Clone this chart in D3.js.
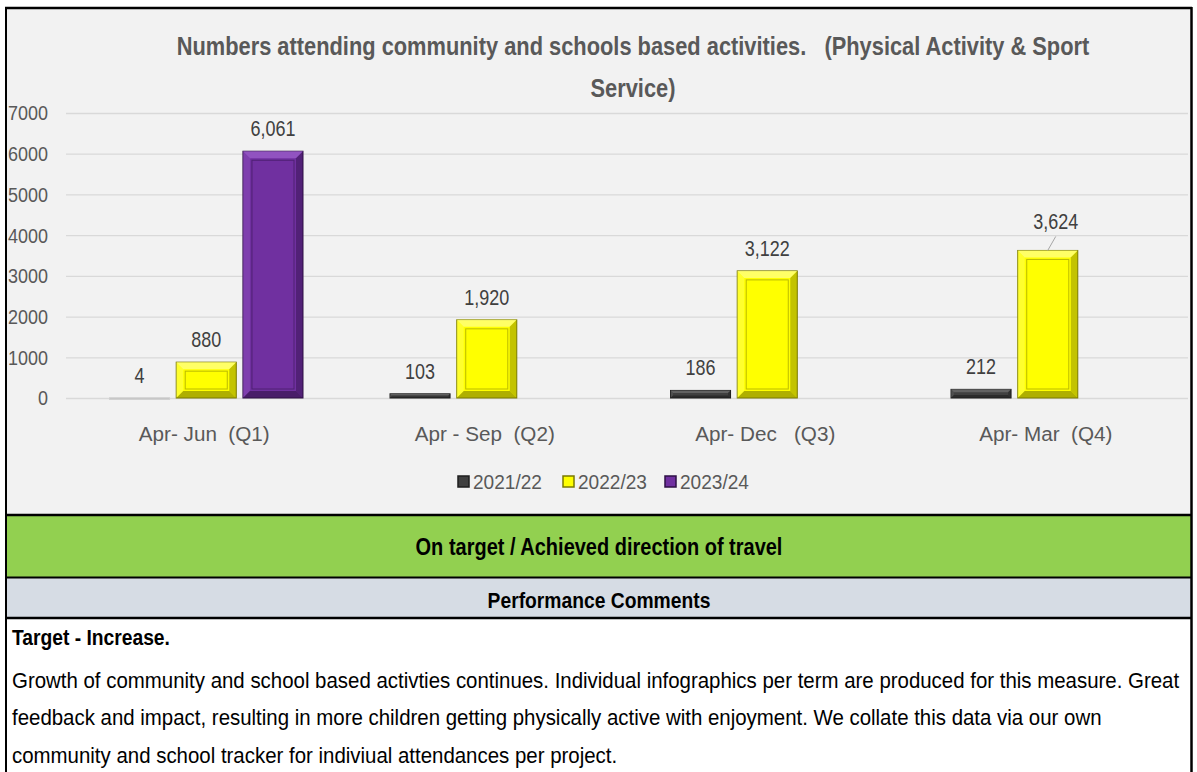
<!DOCTYPE html>
<html>
<head>
<meta charset="utf-8">
<script src="https://cdn.jsdelivr.net/npm/d3@7"></script>
<style>
  body { margin: 0; background: #fff; }
  svg text { font-family: "Liberation Sans", Arial, sans-serif; white-space: pre; }
</style>
</head>
<body>
<script>
// ---- data ----
const categories = ['Apr- Jun  (Q1)', 'Apr - Sep  (Q2)', 'Apr- Dec   (Q3)', 'Apr- Mar  (Q4)'];
const seriesNames = ['2021/22', '2022/23', '2023/24'];
const values2122 = [4, 103, 186, 212];
const values2223 = [880, 1920, 3122, 3624];
const values2324 = [6061, null, null, null];
const yTicks = [0, 1000, 2000, 3000, 4000, 5000, 6000, 7000];

const titleLines = ['Numbers attending community and schools based activities.   (Physical Activity & Sport', 'Service)'];
const statusText = 'On target / Achieved direction of travel';
const commentsHeader = 'Performance Comments';
const commentTitle = 'Target - Increase.';
const commentLines = [
  'Growth of community and school based activties continues. Individual infographics per term are produced for this measure. Great',
  'feedback and impact, resulting in more children getting physically active with enjoyment. We collate this data via our own',
  'community and school tracker for indiviual attendances per project.'
];

const colors = { '2021/22': '#404040', '2022/23': '#ffff00', '2023/24': '#7030a0' };
const darks = { '2021/22': '#1e1e1e', '2022/23': '#7a7a00', '2023/24': '#2e1045' };
const lights = { '2021/22': '#6a6a6a', '2022/23': '#ffff80', '2023/24': '#9a5cc8' };

// make a group of texts Calibri-narrow: shrink the font so the first one is `target` px wide,
// then stretch vertically back to the intended glyph height
function squeeze(sel, target) {
  const size = +sel.attr('font-size');
  const k = target / sel.node().getComputedTextLength();
  sel.attr('font-size', size * k)
    .attr('transform', function () {
      const yb = +d3.select(this).attr('y');
      return `translate(0,${yb}) scale(1,${1 / k}) translate(0,${-yb})`;
    });
}

const width = 1197, height = 772;
const svg = d3.select('body').append('svg')
  .attr('width', width)
  .attr('height', height);

// ---- panels ----
svg.append('rect').attr('x', 6).attr('y', 9).attr('width', 1185).attr('height', 506)
  .attr('fill', '#f2f2f2');
svg.append('rect').attr('x', 6).attr('y', 515).attr('width', 1185).attr('height', 62)
  .attr('fill', '#92d050');
svg.append('rect').attr('x', 6).attr('y', 578).attr('width', 1185).attr('height', 39)
  .attr('fill', '#d6dce4');

// borders
const hLines = [[8, 2.5], [515, 2.5], [577.5, 2], [618, 2.5]];
hLines.forEach(([y, w]) => svg.append('line').attr('x1', 5).attr('x2', 1192).attr('y1', y).attr('y2', y)
  .attr('stroke', '#000').attr('stroke-width', w));
svg.append('line').attr('x1', 6).attr('x2', 6).attr('y1', 7).attr('y2', height).attr('stroke', '#000').attr('stroke-width', 2);
svg.append('line').attr('x1', 1191.5).attr('x2', 1191.5).attr('y1', 7).attr('y2', height).attr('stroke', '#000').attr('stroke-width', 2.5);

// ---- scales ----
const y = d3.scaleLinear().domain([0, 7000]).range([398, 113]);
const x0 = d3.scaleBand().domain(categories).range([66, 1188]).padding(0);
const x1 = d3.scaleBand().domain(seriesNames).range([43.5, x0.bandwidth() - 43.5]).paddingInner(0.1).paddingOuter(0);

// gridlines
svg.append('g').selectAll('line').data(yTicks).enter().append('line')
  .attr('x1', 66).attr('x2', 1188)
  .attr('y1', d => y(d) + 0.5).attr('y2', d => y(d) + 0.5)
  .attr('stroke', '#d9d9d9').attr('stroke-width', 1.3);

// y axis labels
const yLab = svg.append('g').selectAll('text').data(yTicks.slice().reverse()).enter().append('text')
  .attr('x', 48).attr('y', d => y(d) + 7.5)
  .attr('text-anchor', 'end')
  .attr('font-size', 21).attr('fill', '#595959')
  .text(d => d);
squeeze(yLab, 40);

// title
const title = svg.append('g').selectAll('text').data(titleLines).enter().append('text')
  .attr('x', 633).attr('y', (d, i) => 55 + i * 42)
  .attr('text-anchor', 'middle')
  .attr('font-size', 26).attr('font-weight', 'bold').attr('fill', '#595959')
  .text(d => d);
squeeze(title, 913);

// ---- bars ----
const barData = [];
categories.forEach((c, i) => {
  [values2122, values2223, values2324].forEach((arr, j) => {
    if (arr[i] != null) barData.push({ cat: c, series: seriesNames[j], value: arr[i] });
  });
});

const bars = svg.append('g').selectAll('g').data(barData).enter().append('g')
  .attr('transform', d => `translate(${x0(d.cat) + x1(d.series)},0)`);

const bw = x1.bandwidth();
bars.each(function (d) {
  const g = d3.select(this);
  const top = y(d.value), h = y(0) - top;
  const b = Math.min(7, h / 3);
  g.append('rect').attr('x', 0).attr('y', top).attr('width', bw).attr('height', Math.max(h, 1.5))
    .attr('fill', colors[d.series]).attr('stroke', darks[d.series]).attr('stroke-width', 1);
  if (h > 4) {
    // bevel: top/left light, bottom/right dark
    g.append('path').attr('d', `M0,${top}L${bw},${top}L${bw - b},${top + b}L${b},${top + b}Z`)
      .attr('fill', lights[d.series]).attr('opacity', 0.8);
    g.append('path').attr('d', `M0,${top}L${b},${top + b}L${b},${top + h - b}L0,${top + h}Z`)
      .attr('fill', lights[d.series]).attr('opacity', 0.35);
    g.append('path').attr('d', `M${bw},${top}L${bw},${top + h}L${bw - b},${top + h - b}L${bw - b},${top + b}Z`)
      .attr('fill', darks[d.series]).attr('opacity', 0.45);
    g.append('path').attr('d', `M0,${top + h}L${bw},${top + h}L${bw - b},${top + h - b}L${b},${top + h - b}Z`)
      .attr('fill', darks[d.series]).attr('opacity', 0.6);
    if (h > 14) {
      g.append('rect').attr('x', b + 2).attr('y', top + b + 2).attr('width', bw - 2 * b - 4).attr('height', h - 2 * b - 4)
        .attr('fill', 'none').attr('stroke', darks[d.series]).attr('stroke-opacity', 0.5).attr('stroke-width', 1);
    }
  } else {
    g.select('rect').attr('fill', d.value < 10 ? '#bfbfbf' : colors[d.series]).attr('stroke', d.value < 10 ? '#cfcfcf' : darks[d.series]);
  }
});

// data labels (last one offset with a leader line)
const fmt = d3.format(',');
const dLab = bars.append('text')
  .attr('x', d => bw / 2 + (d.value === 3624 ? 8 : 0))
  .attr('y', d => y(d.value) - (d.value === 3624 ? 21 : 15))
  .attr('text-anchor', 'middle')
  .attr('font-size', 22).attr('fill', '#404040')
  .text(d => fmt(d.value));
squeeze(dLab.filter(d => d.value >= 1000), 45);
squeeze(dLab.filter(d => d.value < 1000 && d.value >= 100), 30);
squeeze(dLab.filter(d => d.value < 10), 10);
bars.filter(d => d.value === 3624).append('line')
  .attr('x1', bw / 2).attr('y1', d => y(d.value))
  .attr('x2', bw / 2 + 8).attr('y2', d => y(d.value) - 14)
  .attr('stroke', '#a6a6a6').attr('stroke-width', 1);

// category labels
const cLab = svg.append('g').selectAll('text').data(categories).enter().append('text')
  .attr('x', d => x0(d) + x0.bandwidth() / 2 - 2).attr('y', 441)
  .attr('text-anchor', 'middle')
  .attr('font-size', 21).attr('fill', '#595959')
  .text(d => d);
squeeze(cLab, 131);

// legend
const legendX = [458, 563, 665];
const leg = svg.append('g').selectAll('g').data(seriesNames).enter().append('g')
  .attr('transform', (d, i) => `translate(${legendX[i]},476)`);
leg.append('rect').attr('width', 11).attr('height', 11)
  .attr('fill', d => colors[d]).attr('stroke', d => darks[d]).attr('stroke-width', 1.5);
const lLab = leg.append('text').attr('x', 15).attr('y', 12.5)
  .attr('font-size', 21).attr('fill', '#595959')
  .text(d => d);
squeeze(lLab, 69);

// status band + header
squeeze(svg.append('text').attr('x', 599).attr('y', 555).attr('text-anchor', 'middle')
  .attr('font-size', 24).attr('font-weight', 'bold').attr('fill', '#000')
  .text(statusText), 367);
squeeze(svg.append('text').attr('x', 599).attr('y', 608).attr('text-anchor', 'middle')
  .attr('font-size', 22).attr('font-weight', 'bold').attr('fill', '#000')
  .text(commentsHeader), 223);

// comments
squeeze(svg.append('text').attr('x', 12).attr('y', 645)
  .attr('font-size', 22).attr('font-weight', 'bold').attr('fill', '#000')
  .text(commentTitle), 158);
const cm = svg.append('g').selectAll('text').data(commentLines).enter().append('text')
  .attr('x', 12).attr('y', (d, i) => 688 + i * 37.5)
  .attr('font-size', 22).attr('fill', '#000')
  .text(d => d);
squeeze(cm, 1168);
</script>
</body>
</html>
